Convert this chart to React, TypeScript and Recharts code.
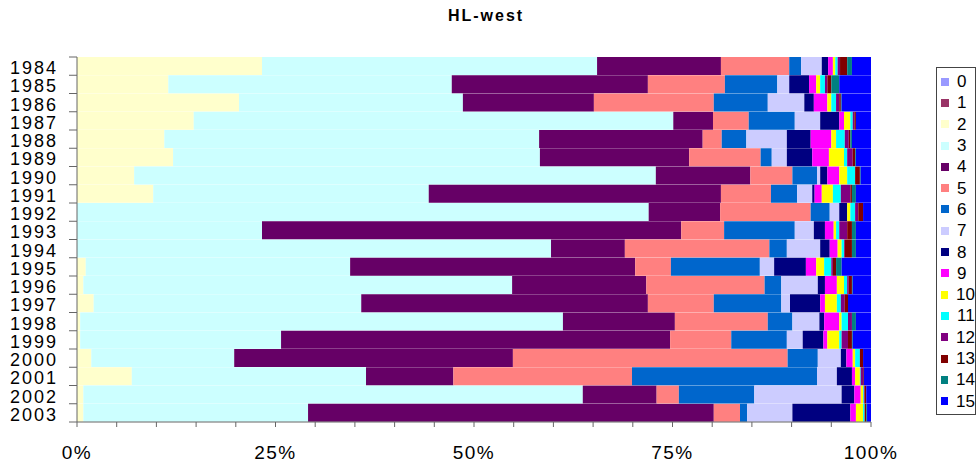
import React from 'react';
import { BarChart, Bar, XAxis, YAxis, Legend } from 'recharts';

const years = ['1984', '1985', '1986', '1987', '1988', '1989', '1990', '1991', '1992', '1993',
  '1994', '1995', '1996', '1997', '1998', '1999', '2000', '2001', '2002', '2003'];

// share (%) per class, one value per year
const s0 = [0, 0, 0, 0, 0, 0, 0, 0, 0, 0, 0, 0, 0, 0, 0, 0, 0, 0, 0, 0];
const s1 = [0, 0, 0, 0, 0, 0, 0, 0, 0, 0, 0, 0, 0, 0, 0, 0, 0, 0, 0, 0];
const s2 = [23.3, 11.5, 20.4, 14.7, 11.0, 12.1, 7.2, 9.6, 0, 0, 0, 1.1, 0.8, 2.1, 0.4, 0.4, 1.8, 6.9, 0.8, 0.8];
const s3 = [42.2, 35.7, 28.2, 60.4, 47.2, 46.2, 65.7, 34.7, 72.0, 23.3, 59.7, 33.3, 54.0, 33.7, 60.8, 25.3, 18.0, 29.5, 62.9, 28.3];
const s4 = [15.6, 24.7, 16.5, 5.0, 20.6, 18.8, 11.9, 36.8, 9.0, 52.8, 9.3, 35.9, 16.9, 36.1, 14.1, 49.0, 35.1, 11.0, 9.3, 51.1];
const s5 = [8.6, 9.7, 15.1, 4.5, 2.4, 9.0, 5.3, 6.3, 11.4, 5.4, 18.2, 4.5, 14.9, 8.3, 11.7, 7.7, 34.6, 22.5, 2.8, 3.3];
const s6 = [1.5, 6.6, 6.8, 5.8, 3.1, 1.4, 3.1, 3.3, 2.4, 8.9, 2.2, 11.2, 2.1, 8.5, 3.1, 7.0, 3.8, 23.3, 9.5, 0.9];
const s7 = [2.6, 1.5, 4.6, 3.2, 5.1, 1.9, 0.4, 1.9, 1.2, 2.4, 4.2, 1.8, 4.6, 1.1, 3.4, 2.0, 2.9, 2.5, 11.0, 5.7];
const s8 = [0.8, 2.5, 1.2, 2.4, 3.0, 3.2, 0.9, 0.3, 1.0, 1.4, 1.2, 4.0, 0.9, 3.8, 0.6, 2.6, 0.7, 1.9, 1.6, 7.3];
const s9 = [0.6, 0.9, 1.7, 0.6, 2.6, 2.1, 1.5, 0.9, 0, 1.1, 1.0, 1.3, 1.5, 0.6, 1.9, 0.5, 0.8, 0.4, 0.8, 0.7];
const s10 = [0.3, 0.5, 0.5, 0.8, 0.6, 1.9, 1.0, 1.4, 0.4, 0.3, 0.5, 1.0, 0.9, 1.5, 0.3, 1.5, 0.3, 0.6, 0.3, 0.9];
const s11 = [0.3, 0.6, 0.6, 0.3, 1.1, 0.4, 1.0, 1.0, 0.6, 0.4, 0.3, 0.9, 0.4, 0.5, 0.8, 0.3, 0.6, 0.1, 0.1, 0.2];
const s12 = [0.3, 0.3, 0.4, 0.2, 0.5, 0.7, 0, 1.2, 0.4, 1.0, 0.1, 0.2, 0.2, 0.5, 0.5, 0.8, 0, 0.3, 0.1, 0];
const s13 = [0.9, 0.5, 0.2, 0.2, 0.2, 0.3, 0.6, 0.2, 0.6, 0.6, 0.9, 0.4, 0.4, 0.4, 0, 0.5, 0.4, 0.1, 0.2, 0.2];
const s14 = [0.6, 1.0, 0.1, 0, 0.2, 0.1, 0.1, 0.5, 0, 0.5, 0.5, 0.7, 0.1, 0, 0.5, 0.1, 0, 0, 0, 0.1];
const s15 = [2.4, 4.0, 3.7, 1.9, 2.4, 1.9, 1.3, 1.9, 1.0, 1.9, 1.9, 3.7, 2.3, 2.9, 1.9, 2.3, 1.0, 0.9, 0.6, 0.5];

const seriesNames = ['0', '1', '2', '3', '4', '5', '6', '7', '8', '9', '10', '11', '12', '13', '14', '15'];
const seriesValues = [s0, s1, s2, s3, s4, s5, s6, s7, s8, s9, s10, s11, s12, s13, s14, s15];
const colors = ['#9999FF', '#993366', '#FFFFCC', '#CCFFFF', '#660066', '#FF8080', '#0066CC', '#CCCCFF',
  '#000080', '#FF00FF', '#FFFF00', '#00FFFF', '#800080', '#800000', '#008080', '#0000FF'];

const xTicks = [0, 0.05, 0.1, 0.15, 0.2, 0.25, 0.3, 0.35, 0.4, 0.45, 0.5, 0.55, 0.6, 0.65, 0.7, 0.75,
  0.8, 0.85, 0.9, 0.95, 1];

const data = years.map((year, i) => {
  const row: Record<string, string | number> = { year };
  seriesNames.forEach((name, k) => {
    row['s' + name] = seriesValues[k][i];
  });
  return row;
});

const AXIS = '#666';
const FONT = '"Liberation Sans", Arial, sans-serif';

function YearTick(props: any) {
  const { x, y, payload, index, visibleTicksCount } = props;
  const half = payload?.offset ?? 9.1;
  const lx = x + 12;
  return (
    <g>
      <line x1={lx} x2={lx + 8} y1={y - half} y2={y - half} stroke={AXIS} />
      {index === visibleTicksCount - 1 && (
        <line x1={lx} x2={lx + 8} y1={y + half} y2={y + half} stroke={AXIS} />
      )}
      <text x={x + 1} y={y} dy={8} textAnchor="end" fontSize={18} letterSpacing={2}
        fill="#000" fontFamily={FONT}>
        {payload.value}
      </text>
    </g>
  );
}

// legend drawn in series order (0..15), not sorted as text
function LegendBox() {
  return (
    <div style={{ border: '1px solid #444', boxSizing: 'border-box', width: 40, height: 348, paddingTop: 3, fontFamily: FONT }}>
      {seriesNames.map((name, k) => (
        <div key={name} style={{ height: 21.3, display: 'flex', alignItems: 'center' }}>
          <span style={{ width: 8, height: 8, background: colors[k], marginLeft: 4, marginRight: 8 }} />
          <span style={{ fontSize: 17, color: '#000', lineHeight: '17px' }}>{name}</span>
        </div>
      ))}
    </div>
  );
}

export default function App() {
  return (
    <div style={{ position: 'absolute', left: 0, top: 0, width: 980, height: 468, background: '#fff', fontFamily: FONT }}>
      <div style={{ position: 'absolute', left: 0, top: 8, width: 972, textAlign: 'center', fontSize: 16,
        fontWeight: 'bold', letterSpacing: 2, lineHeight: '16px', color: '#000' }}>
        HL-west
      </div>
      <BarChart width={980} height={468} data={data} layout="vertical" stackOffset="expand"
        barCategoryGap={0} margin={{ top: 57, right: 109, bottom: 16, left: 17 }}>
        <XAxis type="number" domain={[0, 1]} ticks={xTicks} interval={0} height={30}
          stroke={AXIS} tickSize={5} tickMargin={19}
          tick={{ fontSize: 19, fill: '#000', letterSpacing: 1.5, fontFamily: FONT }}
          tickFormatter={(v: number) => {
            const p = Math.round(v * 100);
            return p % 25 === 0 ? p + '%' : '';
          }} />
        <YAxis type="category" dataKey="year" width={60} stroke={AXIS} tickLine={false}
          tickSize={8} tickMargin={12} interval={0} tick={<YearTick />} />
        <Legend layout="horizontal" align="center" verticalAlign="middle"
          wrapperStyle={{ left: 936, top: 67, width: 40, height: 348 }}
          content={<LegendBox />} />
        {seriesNames.map((name, k) => (
          <Bar key={name} dataKey={'s' + name} name={name} stackId="a" fill={colors[k]}
            isAnimationActive={false} />
        ))}
      </BarChart>
    </div>
  );
}
